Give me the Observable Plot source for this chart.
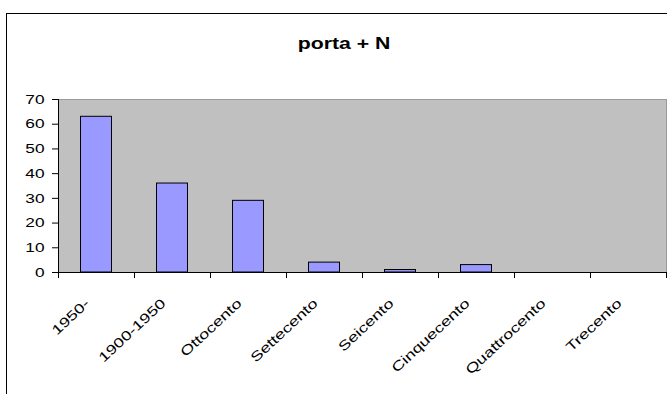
<!DOCTYPE html>
<html>
<head>
<meta charset="utf-8">
<script src="https://cdn.jsdelivr.net/npm/d3@7"></script>
<script src="https://cdn.jsdelivr.net/npm/@observablehq/plot@0.6"></script>
<style>
  html, body { margin: 0; padding: 0; background: #fff; }
  #wrap { position: relative; width: 667px; height: 394px; overflow: hidden; font-family: "Liberation Sans", Arial, sans-serif; }
  #border { position: absolute; left: 6px; top: 13px; width: 900px; height: 600px; border: 1px solid #000; box-sizing: border-box; }
  #title { position: relative; height: 60px; box-sizing: border-box; padding-top: 35px; width: 688px; text-align: center; font-size: 17px; line-height: 17px; font-weight: bold; color: #000; }
  #title span { display: inline-block; transform: scaleX(1.25); transform-origin: center; }
  #chart { position: relative; }
</style>
</head>
<body>
<div id="wrap">
  <div id="border"></div>
  <div id="title"><span>porta + N</span></div>
  <div id="chart"></div>
</div>
<script>
// Periods (categories) and counts per period
const categories = ["1950-", "1900-1950", "Ottocento", "Settecento", "Seicento", "Cinquecento", "Quattrocento", "Trecento"];
const counts = [63, 36, 29, 4, 1, 3, 0, 0];
const yTicks = [0, 10, 20, 30, 40, 50, 60, 70];

const rows = categories.map((c, i) => ({period: c, index: i, count: counts[i]}));

const chart = Plot.plot({
  width: 667,
  height: 334,
  marginLeft: 58,
  marginRight: 1,
  marginTop: 39,
  marginBottom: 122,
  x: {type: "linear", domain: [0, categories.length], axis: null},
  y: {domain: [0, 70], axis: null},
  style: {fontFamily: "'Liberation Sans', Arial, sans-serif", fontSize: "13px", color: "#000", background: "transparent", overflow: "visible"},
  marks: [
    // grey plot area
    Plot.frame({fill: "#c0c0c0", stroke: "#9a9a9a"}),
    // bars
    Plot.rectY(rows, {
      x1: "index", x2: d => d.index + 1, y: "count",
      insetLeft: 22.5, insetRight: 22.5,
      fill: "#9999ff", stroke: "#000", strokeWidth: 1
    }),
    // value axis
    Plot.axisY({ticks: yTicks, tickSize: 6, tickPadding: 8, tickFormat: d => String(d), stroke: "#000", label: null}),
    Plot.ruleX([0], {stroke: "#000"}),
    // category axis: tick marks between categories
    Plot.ruleY([0], {stroke: "#000"}),
    Plot.axisX({ticks: d3.range(0, categories.length + 1), tickSize: 6, tickFormat: () => "", stroke: "#000", label: null}),
    // slanted category labels
    Plot.text(rows, {
      x: d => d.index + 0.5, frameAnchor: "bottom", text: "period",
      rotate: -43, textAnchor: "end", dx: -6, dy: 32,
      fontSize: 13.5, fill: "#000"
    })
  ]
});

// widen the glyphs horizontally along their baselines
function widen(svg, s) {
  svg.querySelectorAll("text").forEach(t => {
    const tr = t.getAttribute("transform");
    if (tr) {
      t.setAttribute("transform", tr + ` scale(${s},1)`);
    } else {
      const x = +(t.getAttribute("x") || 0), y = +(t.getAttribute("y") || 0);
      t.setAttribute("transform", `translate(${x},${y}) scale(${s},1) translate(${-x},${-y})`);
    }
  });
}
widen(chart, 1.33);

document.getElementById("chart").appendChild(chart);
</script>
</body>
</html>
